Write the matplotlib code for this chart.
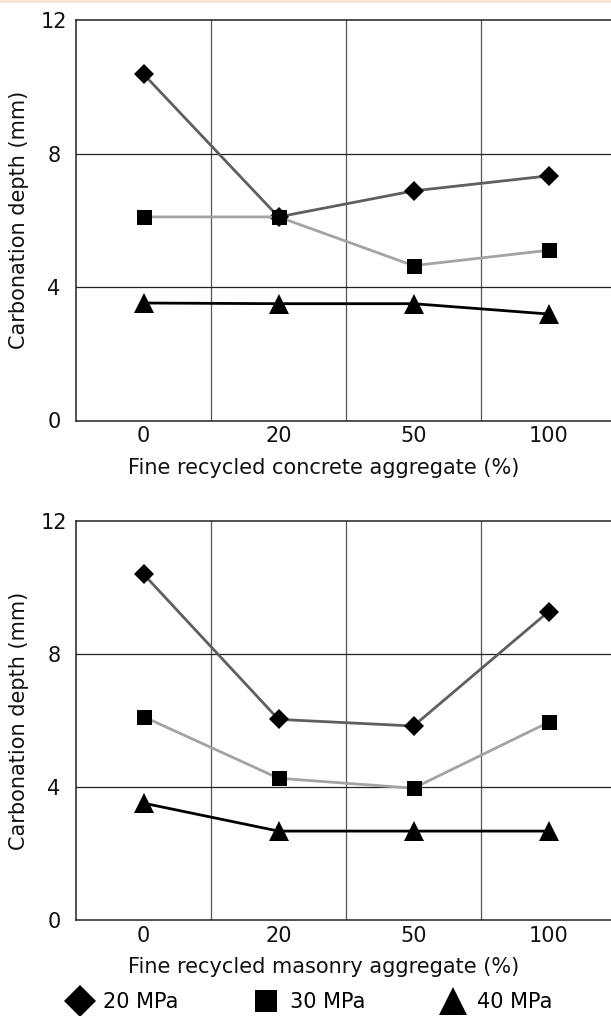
import numpy as np
import matplotlib
matplotlib.use("Agg")
import matplotlib.pyplot as plt
from matplotlib.lines import Line2D
from matplotlib.patches import Rectangle

# Dados: profundidade de carbonatação (mm) por teor de agregado reciclado
teores = ["0", "20", "50", "100"]
concreto_20 = [10.38, 6.10, 6.88, 7.33]
concreto_30 = [6.10, 6.10, 4.64, 5.10]
concreto_40 = [3.52, 3.50, 3.50, 3.19]
alvenaria_20 = [10.41, 6.04, 5.84, 9.28]
alvenaria_30 = [6.12, 4.27, 3.97, 5.95]
alvenaria_40 = [3.52, 2.68, 2.68, 2.68]
classes = ["20 MPa", "30 MPa", "40 MPa"]

cor_linhas = ["#5f5f5f", "#a3a3a3", "#000000"]
marcadores = ["D", "s", "^"]
tam_marc = [10.2, 10.8, 13.7]      # tamanho dos marcadores no gráfico
tam_leg = [16.5, 16.3, 20]         # tamanho dos marcadores na legenda

plt.rcParams["font.family"] = "DejaVu Sans"
plt.rcParams["font.size"] = 15

W, H = 611, 1016
fig = plt.figure(figsize=(W / 100, H / 100), dpi=100)

# faixa rosada no topo
fig.patches.append(Rectangle((0, 1 - 3 / H), 1, 3 / H, transform=fig.transFigure,
                             facecolor="#f8e2d9", edgecolor="none"))

# posições dos eixos em pixels: esquerda, base (y=0), topo (y=12)
esq, larg = 76, 540
ax1 = fig.add_axes([esq / W, (H - 420.5) / H, larg / W, 400.5 / H])
ax2 = fig.add_axes([esq / W, (H - 920.2) / H, larg / W, 399.0 / H])

x = np.arange(len(teores))
paineis = [(ax1, [concreto_20, concreto_30, concreto_40],
            "Fine recycled concrete aggregate (%)"),
           (ax2, [alvenaria_20, alvenaria_30, alvenaria_40],
            "Fine recycled masonry aggregate (%)")]

for ax, series, rotulo in paineis:
    for i, y in enumerate(series):
        ax.plot(x, y, color=cor_linhas[i], lw=2, marker=marcadores[i],
                markersize=tam_marc[i], markerfacecolor="black",
                markeredgecolor="black", markeredgewidth=0, zorder=3,
                label=classes[i])
    ax.set_xlim(-0.5, 3.5)
    ax.set_ylim(0, 12)
    ax.set_yticks([0, 4, 8, 12])
    ax.set_xticks(x)
    ax.set_xticklabels(teores)
    # grade nas divisas das categorias
    for xv in [0.5, 1.5, 2.5]:
        ax.axvline(xv, color="#555555", lw=0.9, zorder=1)
    for yv in [4, 8]:
        ax.axhline(yv, color="#222222", lw=0.9, zorder=1)
    ax.tick_params(length=0, labelcolor="#111111")
    ax.tick_params(axis="y", pad=16)
    ax.tick_params(axis="x", pad=4)
    for lbl in ax.get_yticklabels():
        lbl.set_horizontalalignment("center")
    for s in ["left", "bottom", "top"]:
        ax.spines[s].set_color("#222222")
        ax.spines[s].set_linewidth(1.1)
    ax.spines["right"].set_visible(False)
    ax.set_ylabel("Carbonation depth (mm)", color="#111111")
    ax.yaxis.set_label_coords((29 - esq) / larg, 0.5)
    ax.set_xlabel(rotulo, color="#111111", va="center")
    ax.xaxis.set_label_coords(0.5 - (esq + larg / 2 - 324) / larg, -47 / 400)

# legenda na base da figura, com marcadores maiores
hand = [Line2D([], [], ls="none", marker=marcadores[i], markersize=tam_leg[i],
               markerfacecolor="black", markeredgewidth=0) for i in range(3)]
fig.legend(hand, classes, loc="center left", bbox_to_anchor=(67 / W, 14 / H),
           ncol=3, frameon=False, borderpad=0, borderaxespad=0,
           handlelength=1.2, handletextpad=0.55, columnspacing=3.6,
           fontsize=15)

fig.savefig("out.png", dpi=100)
